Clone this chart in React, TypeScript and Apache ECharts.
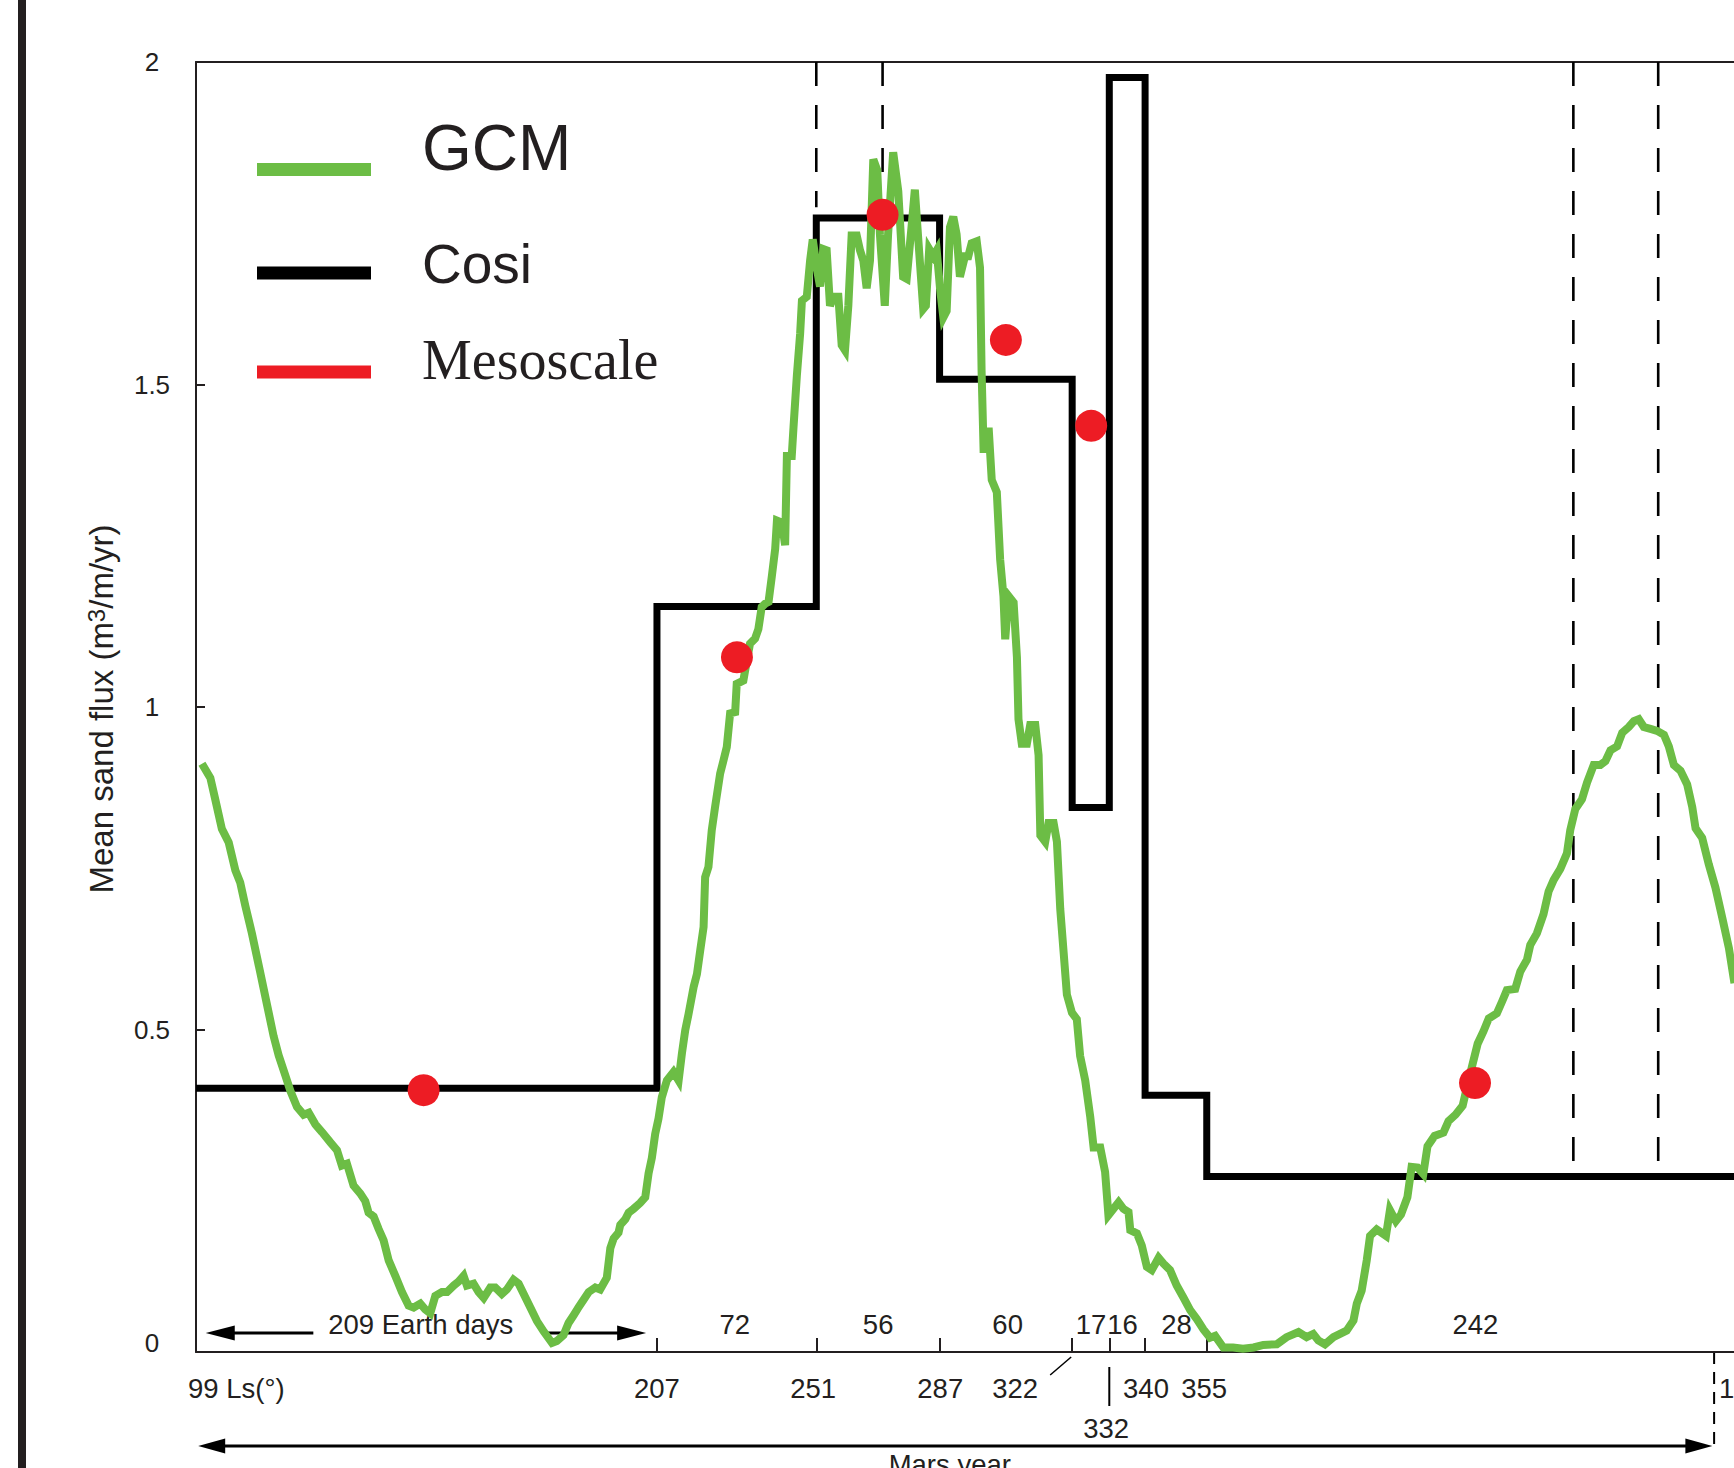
import React, { useEffect, useRef } from "react";
import * as echarts from "echarts";

// ---------- data (x = Earth days since Ls 99°, y = mean sand flux m3/m/yr) ----------
const gcmDays = [
  2.7, 6.5, 8.7, 11.7, 14.8, 17.8, 20.0, 22.3, 25.3, 29.1, 32.1, 35.1, 37.4, 40.4, 42.7, 45.7, 48.7, 51.0, 54.0, 57.0,
  60.8, 63.8, 66.0, 68.3, 71.3, 74.3, 76.6, 78.1, 80.4, 82.6, 84.9, 87.2, 90.2, 93.2, 96.2, 98.5, 101.5, 103.7, 106.0, 108.3,
  111.3, 113.6, 116.6, 118.8, 121.1, 122.6, 125.6, 127.9, 130.2, 133.2, 135.4, 138.4, 140.7, 143.7, 146.0, 148.3, 151.3, 154.3, 157.3, 161.1,
  163.3, 166.3, 168.6, 170.9, 173.1, 175.4, 177.7, 180.7, 182.9, 185.9, 187.5, 189.0, 191.2, 192.0, 194.3, 195.8, 198.0, 201.0, 203.3, 204.8,
  206.3, 207.8, 209.3, 210.8, 213.1, 216.1, 218.4, 219.9, 221.4, 222.9, 225.2, 226.7, 228.2, 229.7, 230.4, 231.9, 233.4, 234.9, 237.2, 238.7,
  240.2, 241.7, 244.0, 244.7, 247.7, 249.2, 250.7, 253.0, 254.5, 256.0, 257.5, 259.1, 260.6, 262.1, 262.9, 265.1, 266.6, 267.4, 269.6, 270.4,
  271.9, 273.4, 274.2, 276.4, 277.9, 279.1, 280.9, 282.4, 283.9, 285.4, 286.9, 288.4, 290.7, 292.2, 293.7, 295.2, 296.7, 299.0, 300.5, 302.0,
  303.5, 305.0, 306.5, 308.3, 309.5, 311.7, 313.2, 315.5, 317.8, 320.0, 321.6, 323.8, 325.3, 326.8, 329.1, 330.3, 331.8, 333.7, 335.2, 336.7,
  338.2, 339.7, 341.2, 342.7, 344.2, 345.7, 348.0, 349.5, 351.0, 353.3, 354.8, 355.5, 356.4, 357.6, 358.7, 360.1, 362.4, 363.9, 365.4, 366.2,
  367.7, 370.0, 371.5, 372.2, 373.7, 376.0, 377.5, 379.8, 381.3, 382.1, 384.3, 385.8, 388.1, 389.6, 391.1, 392.6, 394.1, 396.4, 398.6, 400.1,
  402.4, 404.7, 406.2, 409.2, 411.4, 412.9, 415.2, 417.5, 419.7, 422.0, 422.8, 425.8, 428.0, 430.3, 432.5, 435.6, 437.8, 440.8, 443.8, 446.9,
  449.9, 452.9, 455.9, 458.9, 461.2, 464.9, 469.3, 473.8, 478.6, 483.0, 489.1, 493.5, 498.9, 502.6, 505.6, 507.9, 510.9, 514.7, 517.7, 520.7,
  523.8, 525.3, 527.5, 529.8, 531.3, 534.3, 538.5, 540.3, 543.0, 545.3, 548.2, 550.1, 552.8, 555.4, 557.3, 560.5, 564.5, 566.8, 570.0, 573.2,
  575.4, 577.6, 580.0, 582.6, 585.0, 588.7, 591.0, 593.2, 597.0, 599.3, 602.3, 603.8, 606.8, 609.8, 612.1, 614.4, 617.4, 620.4, 621.9, 624.2,
  627.2, 629.5, 632.5, 635.5, 637.8, 640.1, 643.1, 645.4, 648.4, 650.7, 652.9, 655.2, 658.2, 661.2, 664.3, 666.5, 668.8, 671.8, 674.8, 677.1,
  678.6, 681.6, 684.6, 687.6, 690.7, 693.7, 696.2,
];
const gcmFlux = [
  0.912, 0.89, 0.857, 0.811, 0.79, 0.747, 0.728, 0.692, 0.649, 0.588, 0.539, 0.49, 0.46, 0.429, 0.405, 0.38, 0.368, 0.371, 0.353, 0.341,
  0.325, 0.313, 0.289, 0.292, 0.258, 0.246, 0.234, 0.216, 0.21, 0.191, 0.173, 0.142, 0.118, 0.093, 0.072, 0.069, 0.075, 0.066, 0.06, 0.087,
  0.093, 0.093, 0.103, 0.109, 0.118, 0.103, 0.106, 0.093, 0.084, 0.1, 0.1, 0.09, 0.097, 0.112, 0.106, 0.09, 0.069, 0.048, 0.032, 0.014,
  0.017, 0.026, 0.045, 0.057, 0.069, 0.081, 0.093, 0.1, 0.097, 0.115, 0.161, 0.176, 0.185, 0.197, 0.206, 0.216, 0.222, 0.231, 0.24, 0.277,
  0.301, 0.338, 0.362, 0.395, 0.421, 0.434, 0.421, 0.463, 0.499, 0.524, 0.566, 0.586, 0.623, 0.659, 0.736, 0.752, 0.809, 0.845, 0.897, 0.917,
  0.938, 0.99, 0.992, 1.036, 1.041, 1.07, 1.098, 1.106, 1.121, 1.155, 1.16, 1.163, 1.203, 1.245, 1.289, 1.286, 1.251, 1.389, 1.389, 1.434,
  1.513, 1.579, 1.63, 1.636, 1.692, 1.725, 1.681, 1.652, 1.71, 1.708, 1.622, 1.636, 1.636, 1.561, 1.553, 1.622, 1.731, 1.731, 1.708, 1.692,
  1.649, 1.692, 1.849, 1.832, 1.733, 1.622, 1.733, 1.86, 1.8, 1.667, 1.664, 1.744, 1.802, 1.728, 1.617, 1.622, 1.71, 1.699, 1.708, 1.649,
  1.604, 1.614, 1.744, 1.76, 1.733, 1.667, 1.699, 1.699, 1.719, 1.722, 1.681, 1.522, 1.4, 1.4, 1.433, 1.352, 1.333, 1.229, 1.172, 1.105,
  1.172, 1.162, 1.077, 0.981, 0.943, 0.943, 0.972, 0.972, 0.925, 0.801, 0.791, 0.82, 0.82, 0.791, 0.687, 0.621, 0.554, 0.526, 0.516, 0.459,
  0.421, 0.364, 0.317, 0.317, 0.279, 0.212, 0.222, 0.232, 0.222, 0.217, 0.189, 0.184, 0.165, 0.132, 0.127, 0.146, 0.137, 0.127, 0.103, 0.084,
  0.065, 0.051, 0.035, 0.022, 0.025, 0.007, 0.007, 0.005, 0.007, 0.011, 0.012, 0.023, 0.031, 0.023, 0.028, 0.018, 0.012, 0.023, 0.028, 0.033,
  0.049, 0.075, 0.095, 0.142, 0.18, 0.19, 0.18, 0.22, 0.203, 0.213, 0.24, 0.287, 0.286, 0.276, 0.319, 0.335, 0.34, 0.358, 0.368, 0.382,
  0.414, 0.445, 0.478, 0.497, 0.517, 0.525, 0.543, 0.561, 0.563, 0.59, 0.608, 0.631, 0.649, 0.679, 0.714, 0.732, 0.749, 0.773, 0.809, 0.842,
  0.857, 0.883, 0.91, 0.91, 0.916, 0.933, 0.939, 0.96, 0.969, 0.978, 0.981, 0.969, 0.966, 0.963, 0.957, 0.939, 0.91, 0.901, 0.88, 0.845,
  0.812, 0.797, 0.756, 0.72, 0.673, 0.626, 0.572,
];

// Cosi: constant value between consecutive edges
const cosiEdges = [0, 208.6, 280.7, 336.5, 396.5, 413.3, 429.5, 457.4, 696];
const cosiFlux = [0.409, 1.156, 1.758, 1.508, 0.844, 1.976, 0.398, 0.272];

const mesoDays = [103.0, 244.8, 310.7, 366.5, 405.1, 578.8];
const mesoFlux = [0.406, 1.077, 1.763, 1.569, 1.436, 0.417];

const yTicks = [0, 0.5, 1, 1.5, 2];
const dashedDays = [280.7, 310.7, 623.3, 661.7];
const dashedBottoms = [1.775, 1.8, 0.29, 0.29];

const durationLabels = ["209 Earth days", "72", "56", "60", "17", "16", "28", "242"];
const durationDays = [101.7, 243.8, 308.7, 367.3, 405.0, 419.3, 443.7, 579.0];
const lsLabels = ["207", "251", "287", "322", "340", "355"];
const lsLabelDays = [208.6, 279.3, 336.8, 370.7, 429.9, 456.2];
const lsStartLabel = "99 Ls(°)";
const ls332Label = "332";
const ls332Day = 411.9;
const nextYearLabel = "1";
const marsYearEnd = 687;
const marsYearLabel = "Mars year";
const marsYearLabelDay = 341.1;
const earthArrowDays = [4.4, 53.1, 158.2, 203.7];
const marsArrowDays = [1.0, 686.2];
const legendLabels = ["GCM", "Cosi", "Mesoscale"];

const X_MAX = 696;

export default function App() {
  const ref = useRef<HTMLDivElement>(null);

  useEffect(() => {
    const chart = echarts.init(ref.current!, null, { renderer: "svg" });
    const ink = "#231f20";
    const green = "#6cbd45";
    const red = "#ed1c24";
    const sans = '"Liberation Sans", Arial, Helvetica, sans-serif';
    const serif = '"Liberation Serif", "Times New Roman", serif';

    const gcmData = gcmDays.map((d, i) => [d, gcmFlux[i]]);
    const cosiData: number[][] = [];
    cosiFlux.forEach((v, i) => {
      cosiData.push([cosiEdges[i], v], [cosiEdges[i + 1], v]);
    });
    const mesoData = mesoDays.map((d, i) => [d, mesoFlux[i]]);

    const dashedSeries = dashedDays.map((d, i) => ({
      type: "line",
      data: [
        [d, 2],
        [d, dashedBottoms[i]],
      ],
      symbol: "none",
      silent: true,
      z: 1,
      lineStyle: { color: "#000", width: 2.6, type: [24, 19] },
    }));

    chart.setOption({
      animation: false,
      grid: { left: 196, right: 0, top: 62, bottom: 116, containLabel: false },
      xAxis: [
        {
          type: "value",
          min: 0,
          max: X_MAX,
          position: "bottom",
          axisLine: { show: true, onZero: false, lineStyle: { color: ink, width: 2 } },
          axisTick: {
            show: true,
            inside: true,
            length: 14,
            customValues: cosiEdges.slice(1, -1),
            lineStyle: { color: ink, width: 2 },
          },
          axisLabel: { show: false },
          splitLine: { show: false },
        },
        {
          type: "value",
          min: 0,
          max: X_MAX,
          position: "top",
          axisLine: { show: true, onZero: false, lineStyle: { color: ink, width: 2 } },
          axisTick: { show: false },
          axisLabel: { show: false },
          splitLine: { show: false },
        },
      ],
      yAxis: {
        type: "value",
        min: yTicks[0],
        max: yTicks[yTicks.length - 1],
        interval: 0.5,
        axisLine: { show: true, onZero: false, lineStyle: { color: ink, width: 2 } },
        axisTick: { show: true, inside: true, length: 9, lineStyle: { color: ink, width: 2 } },
        axisLabel: {
          margin: 44,
          align: "center",
          fontSize: 26,
          fontFamily: sans,
          color: ink,
          formatter: (v: number) => (v === 0 ? "{z|0}" : String(v)),
          rich: { z: { fontSize: 26, fontFamily: sans, color: ink, padding: [0, 0, 18, 0] } },
        },
        splitLine: { show: false },
      },
      series: [
        ...dashedSeries,
        {
          name: "Cosi",
          type: "line",
          data: cosiData,
          symbol: "none",
          z: 2,
          lineStyle: { color: "#000", width: 7, join: "miter", cap: "butt" },
        },
        {
          name: "GCM",
          type: "line",
          data: gcmData,
          symbol: "none",
          z: 3,
          lineStyle: { color: green, width: 8, join: "miter" },
        },
        {
          name: "Mesoscale",
          type: "scatter",
          data: mesoData,
          symbol: "circle",
          symbolSize: 32,
          z: 4,
          itemStyle: { color: red, opacity: 1 },
        },
      ],
    });

    const toPx = (d: number, v: number) =>
      chart.convertToPixel({ xAxisIndex: 0, yAxisIndex: 0 }, [d, v]) as number[];
    const X = (d: number) => toPx(d, 0)[0];
    const y0 = toPx(0, 0)[1];
    const yTop = toPx(0, 2)[1];
    const ax0 = X(0);

    const txt = (x: number, y: number, text: string, size: number, align = "center", family = sans) => ({
      type: "text",
      x,
      y,
      silent: true,
      style: { text, fill: ink, fontSize: size, fontFamily: family, align, verticalAlign: "middle" },
    });
    const line = (x1: number, y1: number, x2: number, y2: number, w: number, dash?: number[]) => ({
      type: "line",
      silent: true,
      shape: { x1, y1, x2, y2 },
      style: { stroke: "#000", lineWidth: w, lineDash: dash },
    });
    const head = (tipX: number, y: number, dir: number, len: number, half: number) => ({
      type: "polygon",
      silent: true,
      shape: {
        points: [
          [tipX, y],
          [tipX - dir * len, y - half],
          [tipX - dir * len, y + half],
        ],
      },
      style: { fill: "#000" },
    });

    const g: any[] = [];
    // left page border bar
    g.push({ type: "rect", silent: true, shape: { x: 18, y: 0, width: 8, height: 1468 }, style: { fill: ink } });

    // legend
    const legendColors = [green, "#000", red];
    const legendLineY = [169.5, 273, 372];
    const legendTextY = [147.5, 264, 360];
    const legendSizes = [64, 55, 56];
    const legendFonts = [sans, sans, serif];
    legendLabels.forEach((lab, i) => {
      g.push({
        type: "rect",
        silent: true,
        shape: { x: 257, y: legendLineY[i] - 6.5, width: 114, height: 13 },
        style: { fill: legendColors[i] },
      });
      g.push(txt(422, legendTextY[i], lab, legendSizes[i], "left", legendFonts[i]));
    });

    // y-axis name
    g.push({
      type: "text",
      x: 101.5,
      y: (y0 + yTop) / 2 + 2,
      rotation: Math.PI / 2,
      silent: true,
      style: {
        text: "{a|Mean sand flux (m}{s|3}{a|/m/yr)}",
        align: "center",
        verticalAlign: "middle",
        fill: ink,
        rich: {
          a: { fontSize: 33, fontFamily: sans, fill: ink, lineHeight: 34 },
          s: { fontSize: 24, fontFamily: sans, fill: ink, lineHeight: 12, verticalAlign: "top" },
        },
      },
    });

    // durations row (Earth days)
    durationLabels.forEach((lab, i) => g.push(txt(X(durationDays[i]), y0 - 28, lab, 27.5)));
    const ay = y0 - 19;
    const [l0, l1, r0, r1] = earthArrowDays.map(X);
    g.push(line(l1, ay, l0 + 25, ay, 3));
    g.push(head(l0, ay, -1, 29, 7.5));
    g.push(line(r0, ay, r1 - 25, ay, 3));
    g.push(head(r1, ay, 1, 29, 7.5));

    // Ls row
    g.push(txt(ax0 - 8, y0 + 36, lsStartLabel, 27.5, "left"));
    lsLabels.forEach((lab, i) => g.push(txt(X(lsLabelDays[i]), y0 + 36, lab, 27.5)));
    g.push(txt(X(ls332Day), y0 + 76, ls332Label, 27.5));
    const t322 = X(cosiEdges[4]);
    g.push(line(t322 - 22, y0 + 23, t322 - 1, y0 + 5, 1.5));
    const t332 = X(cosiEdges[5]);
    g.push(line(t332, y0 + 15, t332, y0 + 54, 2));
    const tEnd = X(marsYearEnd);
    g.push(line(tEnd, y0, tEnd, y0 + 96, 2, [12, 8]));
    g.push(txt(tEnd + 5, y0 + 36, nextYearLabel, 27.5, "left"));

    // Mars year arrow
    const my = y0 + 94;
    const [m0, m1] = marsArrowDays.map(X);
    g.push(line(m0 + 22, my, m1 - 22, my, 3));
    g.push(head(m0, my, -1, 27, 7.5));
    g.push(head(m1, my, 1, 27, 7.5));
    g.push(txt(X(marsYearLabelDay), y0 + 112, marsYearLabel, 27.5));

    chart.setOption({ graphic: g });

    return () => chart.dispose();
  }, []);

  return (
    <div
      ref={ref}
      style={{ position: "fixed", left: 0, top: 0, width: "1734px", height: "1468px", background: "#fff" }}
    />
  );
}
